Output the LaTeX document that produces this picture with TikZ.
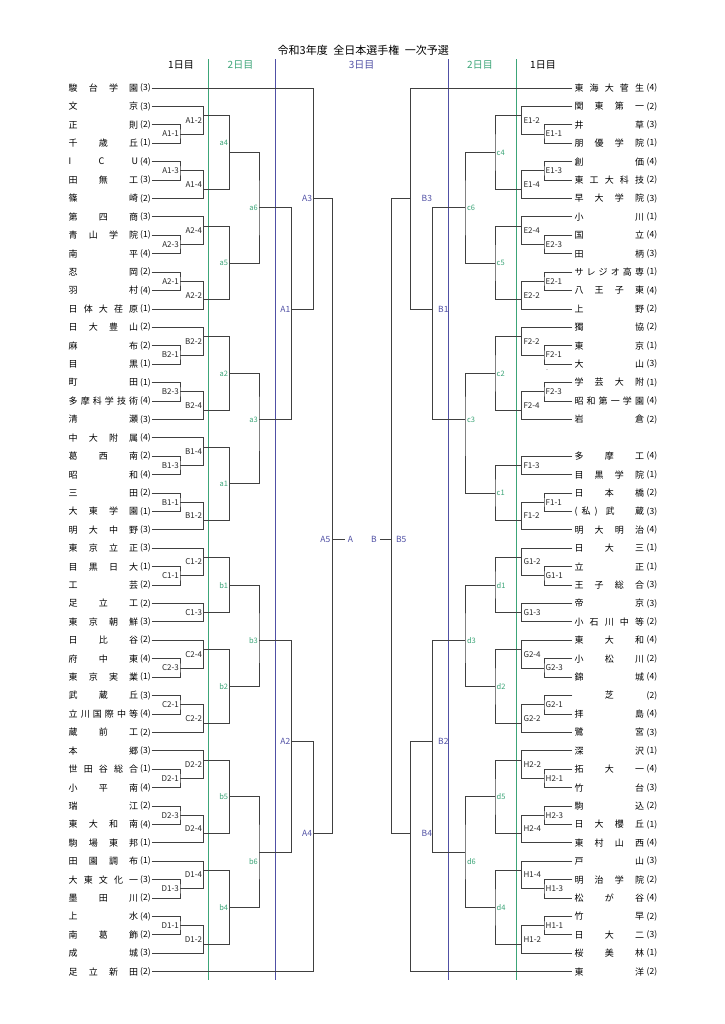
\documentclass[tikz,border=0pt]{standalone}
\usepackage{fontspec}
\newfontfamily\jpfont{Noto Sans CJK JP}

\definecolor{daygreen}{RGB}{60,165,120}
\definecolor{dayblue}{RGB}{80,80,165}
\definecolor{bline}{RGB}{64,64,64}

\tikzset{
  tname/.style={font=\jpfont\fontsize{9}{9}\selectfont, inner sep=0pt},
  tseed/.style={font=\jpfont\fontsize{8.5}{8.5}\selectfont, inner sep=0pt},
  bk/.style={draw=bline, line width=0.8pt},
  mlab/.style={font=\jpfont\fontsize{8}{8}\selectfont, inner sep=0pt, text=black!85},
  glab/.style={font=\jpfont\fontsize{7.5}{7.5}\selectfont, inner sep=0pt, text=daygreen},
  blab/.style={font=\jpfont\fontsize{8.5}{8.5}\selectfont, inner sep=0pt, text=dayblue},
  dayhead/.style={font=\jpfont\fontsize{10}{10}\selectfont, inner sep=0pt},
  dayline/.style={line width=0.7pt},
}

\newcommand{\lteam}[4]{%
  \node[tname, anchor=west] (#1) at (68.5,#2) {\makebox[69.5pt][s]{#3}};
  \node[tseed, anchor=west] (#1s) at (140,#2) {(#4)};
  \coordinate (#1e) at (151.7,#2);
}
\newcommand{\rteam}[4]{%
  \node[tname, anchor=west] (#1) at (574.3,#2) {\makebox[69.5pt][s]{#3}};
  \node[tseed, anchor=west] (#1s) at (646.5,#2) {(#4)};
  \coordinate (#1e) at (572.3,#2);
}

\begin{document}
\begin{tikzpicture}[x=1pt, y=-18.41pt]

	\path[use as bounding box, fill=white] (0,-4.780) rectangle (725,50.842);

	\node[font=\jpfont\fontsize{11}{11}\selectfont, inner sep=0pt] (title) at (363.3,-2.026) {令和3年度\hspace{0.5em}全日本選手権\hspace{0.5em}一次予選};
	\node[dayhead] (hL1) at (181,-1.233) {1日目};
	\node[dayhead, text=daygreen] (hL2) at (240.5,-1.233) {2日目};
	\node[dayhead, text=dayblue] (h3) at (361.7,-1.233) {3日目};
	\node[dayhead, text=daygreen] (hR2) at (480,-1.233) {2日目};
	\node[dayhead] (hR1) at (543,-1.233) {1日目};

	\coordinate (gLt) at (208.3,-1.575);
	\coordinate (gLb) at (208.3,48.45);
	\coordinate (bLt) at (275.7,-1.575);
	\coordinate (bLb) at (275.7,48.45);
	\coordinate (bRt) at (448.7,-1.575);
	\coordinate (bRb) at (448.7,48.45);
	\coordinate (gRt) at (516.5,-1.575);
	\coordinate (gRb) at (516.5,48.45);
	\draw[daygreen, dayline] (gLt) -- (gLb);
	\draw[dayblue, dayline] (bLt) -- (bLb);
	\draw[dayblue, dayline] (bRt) -- (bRb);
	\draw[daygreen, dayline] (gRt) -- (gRb);

	\lteam{L0}{0}{駿 台 学 園}{3}
	\lteam{L1}{1}{文 京}{3}
	\lteam{L2}{2}{正 則}{2}
	\lteam{L3}{3}{千 歳 丘}{1}
	\lteam{L4}{4}{I C U}{4}
	\lteam{L5}{5}{田 無 工}{3}
	\lteam{L6}{6}{篠 崎}{2}
	\lteam{L7}{7}{第 四 商}{3}
	\lteam{L8}{8}{青 山 学 院}{1}
	\lteam{L9}{9}{南 平}{4}
	\lteam{L10}{10}{忍 岡}{2}
	\lteam{L11}{11}{羽 村}{4}
	\lteam{L12}{12}{日 体 大 荏 原}{1}
	\lteam{L13}{13}{日 大 豊 山}{2}
	\lteam{L14}{14}{麻 布}{2}
	\lteam{L15}{15}{目 黒}{1}
	\lteam{L16}{16}{町 田}{1}
	\lteam{L17}{17}{多 摩 科 学 技 術}{4}
	\lteam{L18}{18}{清 瀬}{3}
	\lteam{L19}{19}{中 大 附 属}{4}
	\lteam{L20}{20}{葛 西 南}{2}
	\lteam{L21}{21}{昭 和}{4}
	\lteam{L22}{22}{三 田}{2}
	\lteam{L23}{23}{大 東 学 園}{1}
	\lteam{L24}{24}{明 大 中 野}{3}
	\lteam{L25}{25}{東 京 立 正}{3}
	\lteam{L26}{26}{目 黒 日 大}{1}
	\lteam{L27}{27}{工 芸}{2}
	\lteam{L28}{28}{足 立 工}{2}
	\lteam{L29}{29}{東 京 朝 鮮}{3}
	\lteam{L30}{30}{日 比 谷}{2}
	\lteam{L31}{31}{府 中 東}{4}
	\lteam{L32}{32}{東 京 実 業}{1}
	\lteam{L33}{33}{武 蔵 丘}{3}
	\lteam{L34}{34}{立 川 国 際 中 等}{4}
	\lteam{L35}{35}{蔵 前 工}{2}
	\lteam{L36}{36}{本 郷}{3}
	\lteam{L37}{37}{世 田 谷 総 合}{1}
	\lteam{L38}{38}{小 平 南}{4}
	\lteam{L39}{39}{瑞 江}{2}
	\lteam{L40}{40}{東 大 和 南}{4}
	\lteam{L41}{41}{駒 場 東 邦}{1}
	\lteam{L42}{42}{田 園 調 布}{1}
	\lteam{L43}{43}{大 東 文 化 一}{3}
	\lteam{L44}{44}{墨 田 川}{2}
	\lteam{L45}{45}{上 水}{4}
	\lteam{L46}{46}{南 葛 飾}{2}
	\lteam{L47}{47}{成 城}{3}
	\lteam{L48}{48}{足 立 新 田}{2}

	\rteam{R0}{0}{東 海 大 菅 生}{4}
	\rteam{R1}{1}{関 東 第 一}{2}
	\rteam{R2}{2}{井 草}{3}
	\rteam{R3}{3}{朋 優 学 院}{1}
	\rteam{R4}{4}{創 価}{4}
	\rteam{R5}{5}{東 工 大 科 技}{2}
	\rteam{R6}{6}{早 大 学 院}{3}
	\rteam{R7}{7}{小 川}{1}
	\rteam{R8}{8}{国 立}{4}
	\rteam{R9}{9}{田 柄}{3}
	\rteam{R10}{10}{サ レ ジ オ 高 専}{1}
	\rteam{R11}{11}{八 王 子 東}{4}
	\rteam{R12}{12}{上 野}{2}
	\rteam{R13}{13}{獨 協}{2}
	\rteam{R14}{14}{東 京}{1}
	\rteam{R15}{15}{大 山}{3}
	\rteam{R16}{16}{学 芸 大 附}{1}
	\rteam{R17}{17}{昭 和 第 一 学 園}{4}
	\rteam{R18}{18}{岩 倉}{2}
	\rteam{R20}{20}{多 摩 工}{4}
	\rteam{R21}{21}{目 黒 学 院}{1}
	\rteam{R22}{22}{日 本 橋}{2}
	\rteam{R23}{23}{(\kern4pt私\kern4pt)\kern8pt武 蔵}{3}
	\rteam{R24}{24}{明 大 明 治}{4}
	\rteam{R25}{25}{日 大 三}{1}
	\rteam{R26}{26}{立 正}{1}
	\rteam{R27}{27}{王 子 総 合}{3}
	\rteam{R28}{28}{帝 京}{3}
	\rteam{R29}{29}{小 石 川 中 等}{2}
	\rteam{R30}{30}{東 大 和}{4}
	\rteam{R31}{31}{小 松 川}{2}
	\rteam{R32}{32}{錦 城}{4}
	\rteam{R33}{33}{\hfil 芝\hfil}{2}
	\rteam{R34}{34}{拝 島}{4}
	\rteam{R35}{35}{鷺 宮}{3}
	\rteam{R36}{36}{深 沢}{1}
	\rteam{R37}{37}{拓 大 一}{4}
	\rteam{R38}{38}{竹 台}{3}
	\rteam{R39}{39}{駒 込}{2}
	\rteam{R40}{40}{日 大 櫻 丘}{1}
	\rteam{R41}{41}{東 村 山 西}{4}
	\rteam{R42}{42}{戸 山}{3}
	\rteam{R43}{43}{明 治 学 院}{2}
	\rteam{R44}{44}{松 が 谷}{4}
	\rteam{R45}{45}{竹 早}{2}
	\rteam{R46}{46}{日 大 二}{3}
	\rteam{R47}{47}{桜 美 林}{1}
	\rteam{R48}{48}{東 洋}{2}
	\node[inner sep=0pt, font=\jpfont\fontsize{4}{4}\selectfont] (spk) at (547,15.37) {・};

	\coordinate (A11) at (180,2.5);
	\coordinate (A12) at (203.3,1.5);
	\coordinate (A13) at (180,4.5);
	\coordinate (A14) at (203.3,5.5);
	\coordinate (A23) at (180,8.5);
	\coordinate (A24) at (203.3,7.5);
	\coordinate (A21) at (180,10.5);
	\coordinate (A22) at (203.3,11.5);
	\coordinate (B21) at (180,14.5);
	\coordinate (B22) at (203.3,13.5);
	\coordinate (B23) at (180,16.5);
	\coordinate (B24) at (203.3,17.5);
	\coordinate (B13) at (180,20.5);
	\coordinate (B14) at (203.3,19.5);
	\coordinate (B11) at (180,22.5);
	\coordinate (B12) at (203.3,23.5);
	\coordinate (C11) at (180,26.5);
	\coordinate (C12) at (203.3,25.5);
	\coordinate (C13) at (203.3,28.5);
	\coordinate (C23) at (180,31.5);
	\coordinate (C24) at (203.3,30.5);
	\coordinate (C21) at (180,33.5);
	\coordinate (C22) at (203.3,34.5);
	\coordinate (D21) at (180,37.5);
	\coordinate (D22) at (203.3,36.5);
	\coordinate (D23) at (180,39.5);
	\coordinate (D24) at (203.3,40.5);
	\coordinate (D13) at (180,43.5);
	\coordinate (D14) at (203.3,42.5);
	\coordinate (D11) at (180,45.5);
	\coordinate (D12) at (203.3,46.5);
	\coordinate (a4) at (229.3,3.5);
	\coordinate (a5) at (229.3,9.5);
	\coordinate (a2) at (229.3,15.5);
	\coordinate (a1) at (229.3,21.5);
	\coordinate (b1) at (229.3,27);
	\coordinate (b2) at (229.3,32.5);
	\coordinate (b5) at (229.3,38.5);
	\coordinate (b4) at (229.3,44.5);
	\coordinate (a6) at (259,6.5);
	\coordinate (a3) at (259,18);
	\coordinate (b3) at (259,30);
	\coordinate (b6) at (259,41.5);
	\coordinate (A1) at (291.7,12);
	\coordinate (A2) at (291.7,35.5);
	\coordinate (A3) at (313.3,6);
	\coordinate (A4) at (313.3,40.5);
	\coordinate (A5) at (332.7,24.5);

	\draw[bk] (L2e) -| (A11) |- (L3e);
	\draw[bk] (L1e) -| (A12) |- (A11);
	\draw[bk] (L4e) -| (A13) |- (L5e);
	\draw[bk] (A13) -| (A14) |- (L6e);
	\draw[bk] (L8e) -| (A23) |- (L9e);
	\draw[bk] (L7e) -| (A24) |- (A23);
	\draw[bk] (L10e) -| (A21) |- (L11e);
	\draw[bk] (A21) -| (A22) |- (L12e);
	\draw[bk] (L14e) -| (B21) |- (L15e);
	\draw[bk] (L13e) -| (B22) |- (B21);
	\draw[bk] (L16e) -| (B23) |- (L17e);
	\draw[bk] (B23) -| (B24) |- (L18e);
	\draw[bk] (L20e) -| (B13) |- (L21e);
	\draw[bk] (L19e) -| (B14) |- (B13);
	\draw[bk] (L22e) -| (B11) |- (L23e);
	\draw[bk] (B11) -| (B12) |- (L24e);
	\draw[bk] (L26e) -| (C11) |- (L27e);
	\draw[bk] (L25e) -| (C12) |- (C11);
	\draw[bk] (L28e) -| (C13) |- (L29e);
	\draw[bk] (L31e) -| (C23) |- (L32e);
	\draw[bk] (L30e) -| (C24) |- (C23);
	\draw[bk] (L33e) -| (C21) |- (L34e);
	\draw[bk] (C21) -| (C22) |- (L35e);
	\draw[bk] (L37e) -| (D21) |- (L38e);
	\draw[bk] (L36e) -| (D22) |- (D21);
	\draw[bk] (L39e) -| (D23) |- (L40e);
	\draw[bk] (D23) -| (D24) |- (L41e);
	\draw[bk] (L43e) -| (D13) |- (L44e);
	\draw[bk] (L42e) -| (D14) |- (D13);
	\draw[bk] (L45e) -| (D11) |- (L46e);
	\draw[bk] (D11) -| (D12) |- (L47e);

	\draw[bk] (A12) -| (a4) |- (A14);
	\draw[bk] (A24) -| (a5) |- (A22);
	\draw[bk] (B22) -| (a2) |- (B24);
	\draw[bk] (B14) -| (a1) |- (B12);
	\draw[bk] (C12) -| (b1) |- (C13);
	\draw[bk] (C24) -| (b2) |- (C22);
	\draw[bk] (D22) -| (b5) |- (D24);
	\draw[bk] (D14) -| (b4) |- (D12);
	\draw[bk] (a4) -| (a6) |- (a5);
	\draw[bk] (a2) -| (a3) |- (a1);
	\draw[bk] (b1) -| (b3) |- (b2);
	\draw[bk] (b5) -| (b6) |- (b4);
	\draw[bk] (a6) -| (A1) |- (a3);
	\draw[bk] (b3) -| (A2) |- (b6);
	\draw[bk] (L0e) -| (A3) |- (A1);
	\draw[bk] (A2) -| (A4) |- (L48e);
	\draw[bk] (A3) -| (A5) |- (A4);

	\node[mlab, anchor=east] (tA11) at (179,2.5) {A1-1};
	\node[mlab, anchor=east] (tA12) at (202.3,1.75) {A1-2};
	\node[mlab, anchor=east] (tA13) at (179,4.5) {A1-3};
	\node[mlab, anchor=east] (tA14) at (202.3,5.25) {A1-4};
	\node[mlab, anchor=east] (tA23) at (179,8.5) {A2-3};
	\node[mlab, anchor=east] (tA24) at (202.3,7.75) {A2-4};
	\node[mlab, anchor=east] (tA21) at (179,10.5) {A2-1};
	\node[mlab, anchor=east] (tA22) at (202.3,11.25) {A2-2};
	\node[mlab, anchor=east] (tB21) at (179,14.5) {B2-1};
	\node[mlab, anchor=east] (tB22) at (202.3,13.75) {B2-2};
	\node[mlab, anchor=east] (tB23) at (179,16.5) {B2-3};
	\node[mlab, anchor=east] (tB24) at (202.3,17.25) {B2-4};
	\node[mlab, anchor=east] (tB13) at (179,20.5) {B1-3};
	\node[mlab, anchor=east] (tB14) at (202.3,19.75) {B1-4};
	\node[mlab, anchor=east] (tB11) at (179,22.5) {B1-1};
	\node[mlab, anchor=east] (tB12) at (202.3,23.25) {B1-2};
	\node[mlab, anchor=east] (tC11) at (179,26.5) {C1-1};
	\node[mlab, anchor=east] (tC12) at (202.3,25.75) {C1-2};
	\node[mlab, anchor=east] (tC13) at (202.3,28.5) {C1-3};
	\node[mlab, anchor=east] (tC23) at (179,31.5) {C2-3};
	\node[mlab, anchor=east] (tC24) at (202.3,30.75) {C2-4};
	\node[mlab, anchor=east] (tC21) at (179,33.5) {C2-1};
	\node[mlab, anchor=east] (tC22) at (202.3,34.25) {C2-2};
	\node[mlab, anchor=east] (tD21) at (179,37.5) {D2-1};
	\node[mlab, anchor=east] (tD22) at (202.3,36.75) {D2-2};
	\node[mlab, anchor=east] (tD23) at (179,39.5) {D2-3};
	\node[mlab, anchor=east] (tD24) at (202.3,40.25) {D2-4};
	\node[mlab, anchor=east] (tD13) at (179,43.5) {D1-3};
	\node[mlab, anchor=east] (tD14) at (202.3,42.75) {D1-4};
	\node[mlab, anchor=east] (tD11) at (179,45.5) {D1-1};
	\node[mlab, anchor=east] (tD12) at (202.3,46.25) {D1-2};

	\node[glab, anchor=east] (ta4) at (228.3,3) {a4};
	\node[glab, anchor=east] (ta5) at (228.3,9.5) {a5};
	\node[glab, anchor=east] (ta2) at (228.3,15.5) {a2};
	\node[glab, anchor=east] (ta1) at (228.3,21.5) {a1};
	\node[glab, anchor=east] (tb1) at (228.3,27) {b1};
	\node[glab, anchor=east] (tb2) at (228.3,32.5) {b2};
	\node[glab, anchor=east] (tb5) at (228.3,38.5) {b5};
	\node[glab, anchor=east] (tb4) at (228.3,44.5) {b4};
	\node[glab, anchor=east] (ta6) at (258,6.5) {a6};
	\node[glab, anchor=east] (ta3) at (258,18) {a3};
	\node[glab, anchor=east] (tb3) at (258,30) {b3};
	\node[glab, anchor=east] (tb6) at (258,42) {b6};

	\node[blab, anchor=east] (tA1) at (290.5,12) {A1};
	\node[blab, anchor=east] (tA2) at (290.5,35.5) {A2};
	\node[blab, anchor=east] (tA3) at (312.3,6) {A3};
	\node[blab, anchor=east] (tA4) at (312.3,40.5) {A4};
	\node[blab, anchor=east] (tA5) at (330.5,24.5) {A5};
	\node[blab, inner xsep=3pt] (Afin) at (350.5,24.5) {A};
	\draw[bk] (A5) -- (Afin);

	\coordinate (E11) at (544,2.5);
	\coordinate (E12) at (521.7,1.5);
	\coordinate (E13) at (544,4.5);
	\coordinate (E14) at (521.7,5.5);
	\coordinate (E23) at (544,8.5);
	\coordinate (E24) at (521.7,7.5);
	\coordinate (E21) at (544,10.5);
	\coordinate (E22) at (521.7,11.5);
	\coordinate (F21) at (544,14.5);
	\coordinate (F22) at (521.7,13.5);
	\coordinate (F23) at (544,16.5);
	\coordinate (F24) at (521.7,17.5);
	\coordinate (F13) at (521.7,20.5);
	\coordinate (F11) at (544,22.5);
	\coordinate (F12) at (521.7,23.5);
	\coordinate (G11) at (544,26.5);
	\coordinate (G12) at (521.7,25.5);
	\coordinate (G13) at (521.7,28.5);
	\coordinate (G23) at (544,31.5);
	\coordinate (G24) at (521.7,30.5);
	\coordinate (G21) at (544,33.5);
	\coordinate (G22) at (521.7,34.5);
	\coordinate (H21) at (544,37.5);
	\coordinate (H22) at (521.7,36.5);
	\coordinate (H23) at (544,39.5);
	\coordinate (H24) at (521.7,40.5);
	\coordinate (H13) at (544,43.5);
	\coordinate (H14) at (521.7,42.5);
	\coordinate (H11) at (544,45.5);
	\coordinate (H12) at (521.7,46.5);
	\coordinate (c4) at (495,3.5);
	\coordinate (c5) at (495,9.5);
	\coordinate (c2) at (495,15.5);
	\coordinate (c1) at (495,22);
	\coordinate (d1) at (495,27);
	\coordinate (d2) at (495,32.5);
	\coordinate (d5) at (495,38.5);
	\coordinate (d4) at (495,44.5);
	\coordinate (c6) at (465,6.5);
	\coordinate (c3) at (465,18);
	\coordinate (d3) at (465,30);
	\coordinate (d6) at (465,41.5);
	\coordinate (B1) at (432.7,12);
	\coordinate (B2) at (432.7,35.5);
	\coordinate (B3) at (410.7,6);
	\coordinate (B4) at (410.7,40.5);
	\coordinate (B5) at (391.7,24.5);

	\draw[bk] (R2e) -| (E11) |- (R3e);
	\draw[bk] (R1e) -| (E12) |- (E11);
	\draw[bk] (R4e) -| (E13) |- (R5e);
	\draw[bk] (E13) -| (E14) |- (R6e);
	\draw[bk] (R8e) -| (E23) |- (R9e);
	\draw[bk] (R7e) -| (E24) |- (E23);
	\draw[bk] (R10e) -| (E21) |- (R11e);
	\draw[bk] (E21) -| (E22) |- (R12e);
	\draw[bk] (R14e) -| (F21) |- (R15e);
	\draw[bk] (R13e) -| (F22) |- (F21);
	\draw[bk] (R16e) -| (F23) |- (R17e);
	\draw[bk] (F23) -| (F24) |- (R18e);
	\draw[bk] (R20e) -| (F13) |- (R21e);
	\draw[bk] (R22e) -| (F11) |- (R23e);
	\draw[bk] (F11) -| (F12) |- (R24e);
	\draw[bk] (R26e) -| (G11) |- (R27e);
	\draw[bk] (R25e) -| (G12) |- (G11);
	\draw[bk] (R28e) -| (G13) |- (R29e);
	\draw[bk] (R31e) -| (G23) |- (R32e);
	\draw[bk] (R30e) -| (G24) |- (G23);
	\draw[bk] (R33e) -| (G21) |- (R34e);
	\draw[bk] (G21) -| (G22) |- (R35e);
	\draw[bk] (R37e) -| (H21) |- (R38e);
	\draw[bk] (R36e) -| (H22) |- (H21);
	\draw[bk] (R39e) -| (H23) |- (R40e);
	\draw[bk] (H23) -| (H24) |- (R41e);
	\draw[bk] (R43e) -| (H13) |- (R44e);
	\draw[bk] (R42e) -| (H14) |- (H13);
	\draw[bk] (R45e) -| (H11) |- (R46e);
	\draw[bk] (H11) -| (H12) |- (R47e);

	\draw[bk] (E12) -| (c4) |- (E14);
	\draw[bk] (E24) -| (c5) |- (E22);
	\draw[bk] (F22) -| (c2) |- (F24);
	\draw[bk] (F13) -| (c1) |- (F12);
	\draw[bk] (G12) -| (d1) |- (G13);
	\draw[bk] (G24) -| (d2) |- (G22);
	\draw[bk] (H22) -| (d5) |- (H24);
	\draw[bk] (H14) -| (d4) |- (H12);
	\draw[bk] (c4) -| (c6) |- (c5);
	\draw[bk] (c2) -| (c3) |- (c1);
	\draw[bk] (d1) -| (d3) |- (d2);
	\draw[bk] (d5) -| (d6) |- (d4);
	\draw[bk] (c6) -| (B1) |- (c3);
	\draw[bk] (d3) -| (B2) |- (d6);
	\draw[bk] (R0e) -| (B3) |- (B1);
	\draw[bk] (B2) -| (B4) |- (R48e);
	\draw[bk] (B3) -| (B5) |- (B4);

	\node[mlab, anchor=west] (tE11) at (545.5,2.5) {E1-1};
	\node[mlab, anchor=west] (tE12) at (523.3,1.75) {E1-2};
	\node[mlab, anchor=west] (tE13) at (545.5,4.5) {E1-3};
	\node[mlab, anchor=west] (tE14) at (523.3,5.25) {E1-4};
	\node[mlab, anchor=west] (tE23) at (545.5,8.5) {E2-3};
	\node[mlab, anchor=west] (tE24) at (523.3,7.75) {E2-4};
	\node[mlab, anchor=west] (tE21) at (545.5,10.5) {E2-1};
	\node[mlab, anchor=west] (tE22) at (523.3,11.25) {E2-2};
	\node[mlab, anchor=west] (tF21) at (545.5,14.5) {F2-1};
	\node[mlab, anchor=west] (tF22) at (523.3,13.75) {F2-2};
	\node[mlab, anchor=west] (tF23) at (545.5,16.5) {F2-3};
	\node[mlab, anchor=west] (tF24) at (523.3,17.25) {F2-4};
	\node[mlab, anchor=west] (tF13) at (523.3,20.5) {F1-3};
	\node[mlab, anchor=west] (tF11) at (545.5,22.5) {F1-1};
	\node[mlab, anchor=west] (tF12) at (523.3,23.25) {F1-2};
	\node[mlab, anchor=west] (tG11) at (545.5,26.5) {G1-1};
	\node[mlab, anchor=west] (tG12) at (523.3,25.75) {G1-2};
	\node[mlab, anchor=west] (tG13) at (523.3,28.5) {G1-3};
	\node[mlab, anchor=west] (tG23) at (545.5,31.5) {G2-3};
	\node[mlab, anchor=west] (tG24) at (523.3,30.75) {G2-4};
	\node[mlab, anchor=west] (tG21) at (545.5,33.5) {G2-1};
	\node[mlab, anchor=west] (tG22) at (523.3,34.25) {G2-2};
	\node[mlab, anchor=west] (tH21) at (545.5,37.5) {H2-1};
	\node[mlab, anchor=west] (tH22) at (523.3,36.75) {H2-2};
	\node[mlab, anchor=west] (tH23) at (545.5,39.5) {H2-3};
	\node[mlab, anchor=west] (tH24) at (523.3,40.25) {H2-4};
	\node[mlab, anchor=west] (tH13) at (545.5,43.5) {H1-3};
	\node[mlab, anchor=west] (tH14) at (523.3,42.75) {H1-4};
	\node[mlab, anchor=west] (tH11) at (545.5,45.5) {H1-1};
	\node[mlab, anchor=west] (tH12) at (523.3,46.25) {H1-2};

	\node[glab, anchor=west] (tc4) at (496.5,3.5) {c4};
	\node[glab, anchor=west] (tc5) at (496.5,9.5) {c5};
	\node[glab, anchor=west] (tc2) at (496.5,15.5) {c2};
	\node[glab, anchor=west] (tc1) at (496.5,22) {c1};
	\node[glab, anchor=west] (td1) at (496.5,27) {d1};
	\node[glab, anchor=west] (td2) at (496.5,32.5) {d2};
	\node[glab, anchor=west] (td5) at (496.5,38.5) {d5};
	\node[glab, anchor=west] (td4) at (496.5,44.5) {d4};
	\node[glab, anchor=west] (tc6) at (466.8,6.5) {c6};
	\node[glab, anchor=west] (tc3) at (466.8,18) {c3};
	\node[glab, anchor=west] (td3) at (466.8,30) {d3};
	\node[glab, anchor=west] (td6) at (466.8,42) {d6};

	\node[blab, anchor=west] (tB1) at (438,12) {B1};
	\node[blab, anchor=west] (tB2) at (438,35.5) {B2};
	\node[blab, anchor=west] (tB3) at (421.5,6) {B3};
	\node[blab, anchor=west] (tB4) at (421.5,40.5) {B4};
	\node[blab, anchor=west] (tB5) at (395.8,24.5) {B5};
	\node[blab, inner xsep=3pt] (Bfin) at (374,24.5) {B};
	\draw[bk] (B5) -- (Bfin);

\end{tikzpicture}
\end{document}
